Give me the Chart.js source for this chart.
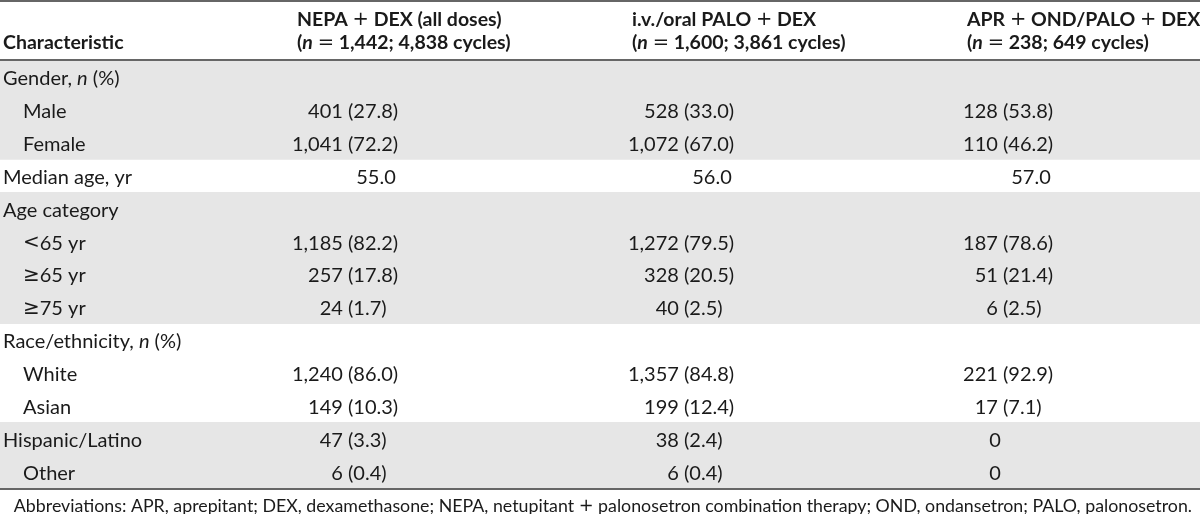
<!DOCTYPE html>
<html>
<head>
<meta charset="utf-8">
<script src="https://cdn.jsdelivr.net/npm/chart.js@4/dist/chart.umd.min.js"></script>
<style>
  html, body { margin: 0; padding: 0; background: #fff; }
  #wrap { width: 1200px; height: 514px; position: relative; }
</style>
</head>
<body>
<div id="wrap"><canvas id="tbl"></canvas></div>
<script>
// table content, *text* marks italic
var rowLabels = ["Gender, *n* (%)", "Male", "Female", "Median age, yr", "Age category",
	"\u003C65 yr", "\u226565 yr", "\u226575 yr", "Race/ethnicity, *n* (%)",
	"White", "Asian", "Hispanic/Latino", "Other"];
var rowIndent = [0, 1, 1, 0, 0, 1, 1, 1, 0, 1, 1, 0, 1];
var rowShaded = [1, 1, 1, 0, 1, 1, 1, 1, 0, 0, 0, 1, 1];

var nepaDex = ["", "401 (27.8)", "1,041 (72.2)", "55.0", "", "1,185 (82.2)", "257 (17.8)",
	"24 (1.7)", "", "1,240 (86.0)", "149 (10.3)", "47 (3.3)", "6 (0.4)"];
var paloDex = ["", "528 (33.0)", "1,072 (67.0)", "56.0", "", "1,272 (79.5)", "328 (20.5)",
	"40 (2.5)", "", "1,357 (84.8)", "199 (12.4)", "38 (2.4)", "6 (0.4)"];
var aprDex = ["", "128 (53.8)", "110 (46.2)", "57.0", "", "187 (78.6)", "51 (21.4)",
	"6 (2.5)", "", "221 (92.9)", "17 (7.1)", "0", "0"];

var firstHeader = "Characteristic";
var colHeaders = [
	["NEPA + DEX (all doses)", "(*n* = 1,442; 4,838 cycles)"],
	["i.v./oral PALO + DEX", "(*n* = 1,600; 3,861 cycles)"],
	["APR + OND/PALO + DEX", "(*n* = 238; 649 cycles)"]
];
var footnote = "Abbreviations: APR, aprepitant; DEX, dexamethasone; NEPA, netupitant + palonosetron combination therapy; OND, ondansetron; PALO, palonosetron.";

var FONT = "Lato";
var MATH_FONT = "'DejaVu Sans'";
var MATH_CHARS = "+=<\u2265";
var TEXT = "#1a1a1a";
var RULE = "#666666";

// column layout
var colHeadX = [297, 632, 967];
var colParenX = [348, 684, 1003];

function fontStr(size, bold, italic, math) {
	return (italic ? "italic " : "") + (bold && !math ? "bold " : "") + size + "px " + (math ? MATH_FONT : FONT);
}

// split into runs: {t, italic, math}
function runs(str) {
	var out = [];
	var parts = str.split("*");
	for (var i = 0; i < parts.length; i++) {
		var cur = "", curMath = false;
		for (var j = 0; j < parts[i].length; j++) {
			var ch = parts[i][j];
			var m = MATH_CHARS.indexOf(ch) >= 0;
			if (cur && m != curMath) {
				out.push({ t: cur, italic: i % 2 == 1, math: curMath });
				cur = "";
			}
			cur += ch;
			curMath = m;
		}
		if (cur) out.push({ t: cur, italic: i % 2 == 1, math: curMath });
	}
	return out;
}

function richWidth(ctx, str, size, bold) {
	var rs = runs(str), w = 0;
	for (var i = 0; i < rs.length; i++) {
		ctx.font = fontStr(size, bold, rs[i].italic, rs[i].math);
		w += ctx.measureText(rs[i].t).width;
	}
	return w;
}

function drawRich(ctx, str, x, y, size, bold) {
	var rs = runs(str);
	ctx.textAlign = "left";
	ctx.textBaseline = "middle";
	ctx.fillStyle = TEXT;
	for (var i = 0; i < rs.length; i++) {
		ctx.font = fontStr(size, bold, rs[i].italic, rs[i].math);
		ctx.fillText(rs[i].t, x, y);
		x += ctx.measureText(rs[i].t).width;
	}
}

function drawValue(ctx, str, anchor, y, size) {
	if (!str) return;
	var p = str.indexOf("(");
	var x;
	if (p >= 0) {
		x = anchor - richWidth(ctx, str.substring(0, p), size, false);
	} else {
		var w = richWidth(ctx, str, size, false);
		var c = str.indexOf(".") >= 0 ? anchor + 28 : anchor - 8;
		x = c - w / 2;
	}
	drawRich(ctx, str, x, y, size, false);
}

var tablePlugin = {
	id: "tableText",
	afterDatasetsDraw: function(chart) {
		var ctx = chart.ctx;
		var area = chart.chartArea;
		var yScale = chart.scales.y;
		var size = 20;
		var headSize = 19.5;
		ctx.save();

		// rules
		ctx.fillStyle = RULE;
		ctx.fillRect(0, 0, chart.width, 2);
		ctx.fillRect(0, area.top - 2, chart.width, 2);
		ctx.fillRect(0, area.bottom, chart.width, 2);

		// header
		drawRich(ctx, firstHeader, 3, 43, headSize, true);
		for (var c = 0; c < colHeaders.length; c++) {
			drawRich(ctx, colHeaders[c][0], colHeadX[c], 20, headSize, true);
			drawRich(ctx, colHeaders[c][1], colHeadX[c], 43, headSize, true);
		}

		// body
		var cols = [nepaDex, paloDex, aprDex];
		for (var r = 0; r < rowLabels.length; r++) {
			var y = yScale.getPixelForValue(r) + 1.5;
			drawRich(ctx, rowLabels[r], rowIndent[r] ? 23 : 3, y, size, false);
			for (var k = 0; k < cols.length; k++) {
				drawValue(ctx, cols[k][r], colParenX[k], y, size);
			}
		}

		// footnote
		var fs = 17.8;
		var fw = richWidth(ctx, footnote, fs, false);
		drawRich(ctx, footnote, 1192 - fw, area.bottom + 18, fs, false);

		ctx.restore();
	}
};

new Chart(document.getElementById("tbl"), {
	type: "bar",
	data: {
		labels: rowLabels,
		datasets: [{
			data: rowShaded.map(function(s) { return s ? [0, 1] : null; }),
			backgroundColor: "#e6e6e6",
			borderWidth: 0,
			barPercentage: 1,
			categoryPercentage: 1
		}]
	},
	options: {
		indexAxis: "y",
		responsive: true,
		maintainAspectRatio: false,
		animation: false,
		layout: { padding: { top: 61, bottom: 26, left: 0, right: 0 } },
		plugins: { legend: { display: false }, tooltip: { enabled: false } },
		scales: {
			x: { display: false, min: 0, max: 1 },
			y: { display: false }
		}
	},
	plugins: [tablePlugin]
});
</script>
</body>
</html>
